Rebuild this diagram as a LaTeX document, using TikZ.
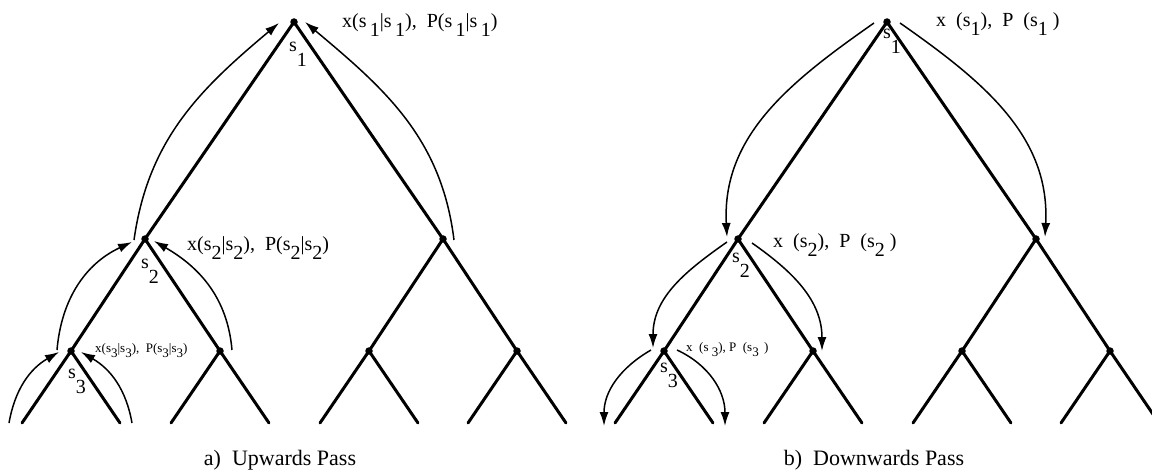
\documentclass[tikz,border=0pt]{standalone}
\usepackage{fontspec}
\setmainfont{Liberation Serif}
\usepackage{tikz}
\usetikzlibrary{positioning, arrows.meta, calc}

\newcommand{\low}[1]{\raisebox{-0.45em}{#1}}
\newcommand{\idx}[1]{\raisebox{-0.75em}{#1}}

\tikzset{
  branch/.style={line width=3pt, line cap=round},
  dot/.style={circle, fill, inner sep=0pt, minimum size=7.5pt},
  pass/.style={line width=1.5pt, -{Latex[length=14pt, width=9pt]}},
  nm/.style={inner sep=0pt, font=\fontsize{20}{22}\selectfont},
  msg/.style={inner sep=0pt, anchor=base west, font=\fontsize{20}{22}\selectfont},
  msgs/.style={msg, font=\fontsize{13}{15}\selectfont},
  capt/.style={inner sep=0pt, anchor=base, font=\fontsize{22}{24}\selectfont}
}

\begin{document}
\begin{tikzpicture}[x=1pt, y=1pt]
\useasboundingbox (0,0) rectangle (1152,472);
\clip (0,0) rectangle (1152,472);

% The two trees (u = upwards, d = downwards)
\foreach \tree/\dx in {u/0, d/593} {
    \node[dot] (\tree-r) at (294+\dx,450) {};
    \node[dot] (\tree-a) at (145+\dx,233) {};
    \node[dot] (\tree-b) at (443+\dx,233) {};

    % Lowest level with its leaves
    \foreach \n/\xpos in {aa/71, ab/220, ba/369, bb/517} {
        \node[dot] (\tree-\n) at (\xpos+\dx,121) {};
        \coordinate (\tree-\n1) at ($(\tree-\n)+(-49,-72)$);
        \coordinate (\tree-\n2) at ($(\tree-\n)+(49,-72)$);
        \draw[branch] (\tree-\n1) -- (\tree-\n.center) -- (\tree-\n2);
    }

    \draw[branch] (\tree-a.center) -- (\tree-r.center) -- (\tree-b.center);
    \draw[branch] (\tree-aa.center) -- (\tree-a.center) -- (\tree-ab.center);
    \draw[branch] (\tree-ba.center) -- (\tree-b.center) -- (\tree-bb.center);
}

% Node names
\node[nm, below=16pt of u-r, xshift=4pt] (nu1) {s\idx{1}};
\node[nm, below=16pt of u-a, xshift=5pt] (nu2) {s\idx{2}};
\node[nm, below=14pt of u-aa, xshift=6pt] (nu3) {s\idx{3}};
\node[nm, below=3pt of d-r, xshift=5pt] (nd1) {s\idx{1}};
\node[nm, below=10pt of d-a, xshift=3pt] (nd2) {s\idx{2}};
\node[nm, below=8pt of d-aa, xshift=5pt] (nd3) {s\idx{3}};

% Messages
\node[msg] (mu1) at (342,444) {x(s\,\low{1}|s\,\low{1}),\ \ P(s\,\low{1}|s\,\low{1})};
\node[msg] (mu2) at (187,221) {x(s\low{2}|s\low{2}),\ \ P(s\low{2}|s\low{2})};
\node[msgs] (mu3) at (95,120) {x(s\low{3}|s\low{3}),\ \ P(s\low{3}|s\low{3})};
\node[msg] (md1) at (936,445) {x\ \ (s\low{1}),\ \ P\ \ (s\low{1}\ )};
\node[msg] (md2) at (773,224) {x\ \ (s\low{2}),\ \ P\ \ (s\low{2}\ )};
\node[msgs] (md3) at (686,121) {x\ \ (s\ \low{3}),\ P\ \ (s\low{3}\ \,)};

% Upwards pass
\draw[pass] ($(u-a)+(-11,-1)$) to[out=82, in=220] ($(u-r)+(-15,-1)$);
\draw[pass] ($(u-b)+(11,-1)$) to[out=97, in=-40] ($(u-r)+(11,0)$);
\draw[pass] ($(u-aa)+(-14,1)$) to[out=85, in=205] ($(u-a)+(-13,-3)$);
\draw[pass] ($(u-ab)+(12,1)$) to[out=95, in=-30] ($(u-a)+(9,-2)$);
\draw[pass] ($(u-aa1)+(-13,0)$) to[out=80, in=210] ($(u-aa)+(-12,-1)$);
\draw[pass] ($(u-aa2)+(12,0)$) to[out=100, in=-30] ($(u-aa)+(10,-1)$);

% Downwards pass
\draw[pass] ($(d-r)+(-13,-1)$) to[out=215, in=93] ($(d-a)+(-11,2)$);
\draw[pass] ($(d-a)+(-11,-3)$) to[out=215, in=90] ($(d-aa)+(-11,3)$);
\draw[pass] ($(d-r)+(13,-1)$) to[out=-35, in=87] ($(d-b)+(9,2)$);
\draw[pass] ($(d-a)+(14,-4)$) to[out=-35, in=90] ($(d-ab)+(9,0)$);
\draw[pass] ($(d-aa)+(-13,1)$) to[out=210, in=90] ($(d-aa1)+(-11,-3)$);
\draw[pass] ($(d-aa)+(13,1)$) to[out=-25, in=90] ($(d-aa2)+(12,-3)$);

% Captions
\node[capt] (capa) at (280,7) {a)\ \ Upwards Pass};
\node[capt] (capb) at (874,7) {b)\ \ Downwards Pass};

\end{tikzpicture}
\end{document}
